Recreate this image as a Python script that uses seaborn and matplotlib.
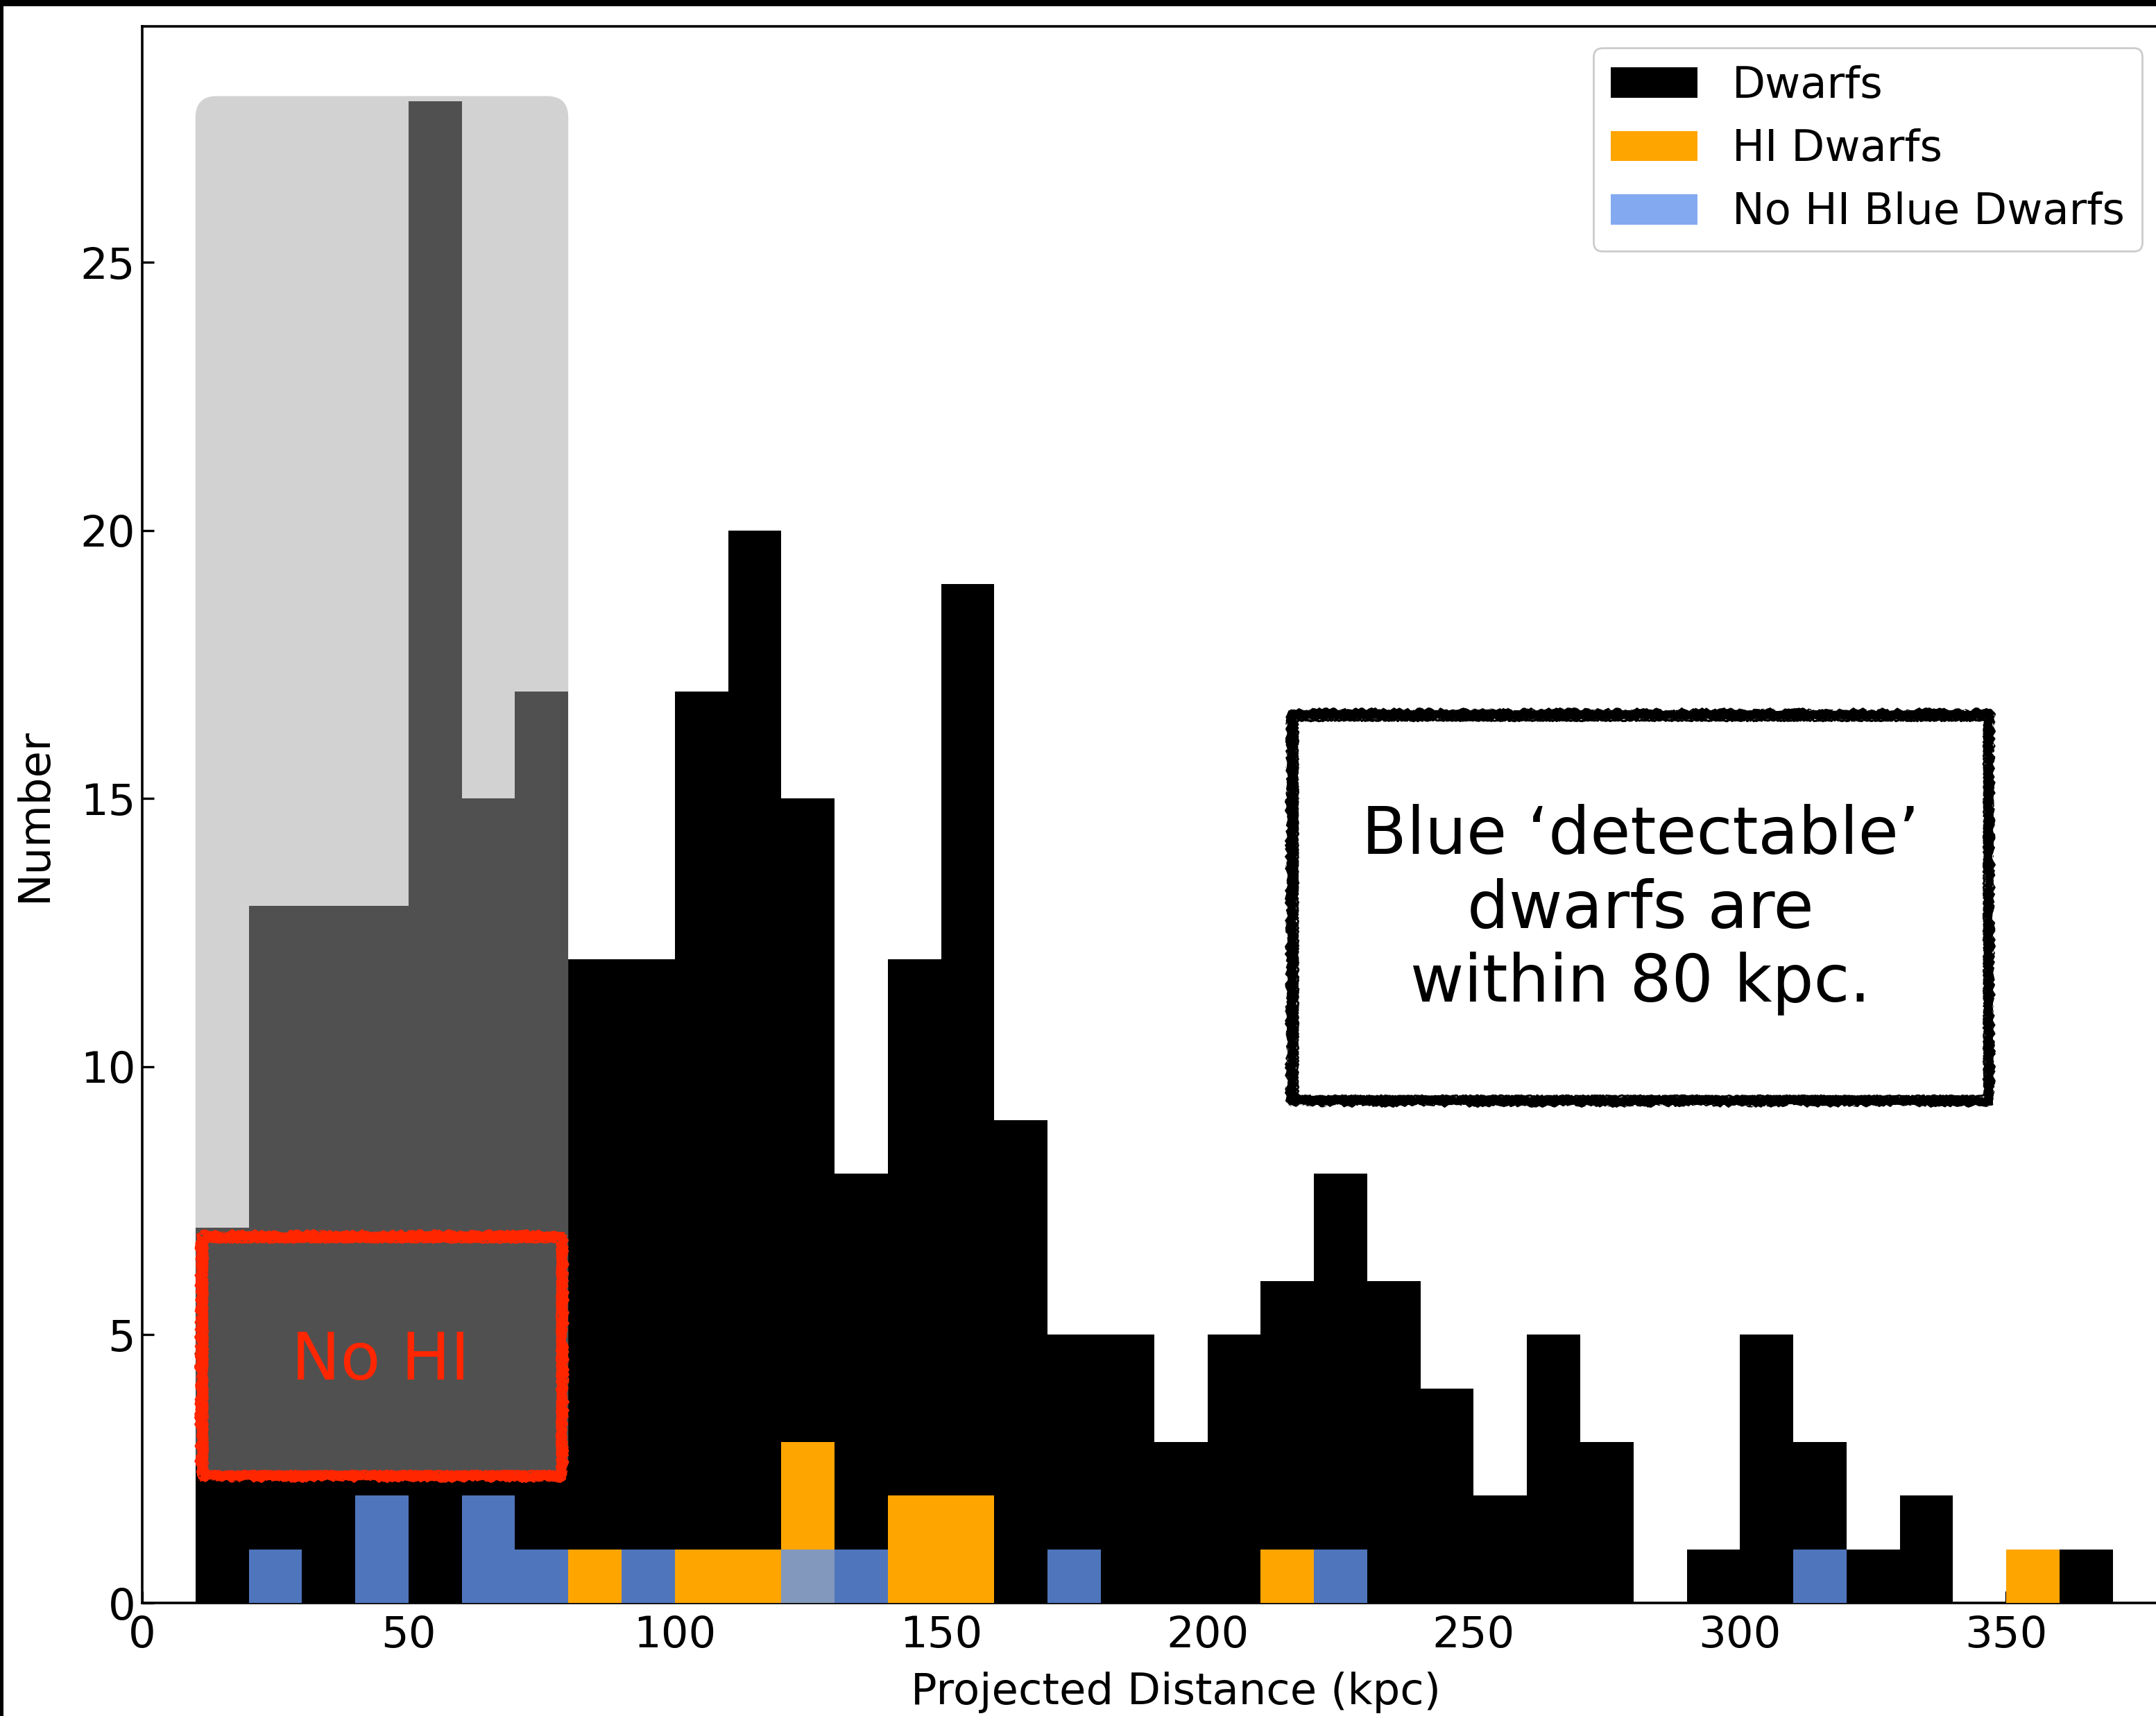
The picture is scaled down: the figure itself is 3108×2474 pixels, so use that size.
import numpy as np
import pandas as pd
import matplotlib
matplotlib.use("Agg")
import matplotlib.pyplot as plt
from matplotlib.patches import FancyBboxPatch, Rectangle
import seaborn as sns

# Histogram bins (kpc) and per-bin counts
bin_edges = list(range(10, 371, 10))
bin_centers = [e + 5 for e in bin_edges[:-1]]

dwarf_counts = [7, 13, 13, 13, 28, 15, 17, 12, 12, 17, 20, 15, 8, 12, 19, 9, 5, 5,
                3, 5, 6, 8, 6, 4, 2, 5, 3, 0, 1, 5, 3, 1, 2, 0, 1, 1]
hi_counts = [0, 0, 0, 0, 0, 0, 0, 1, 0, 1, 1, 3, 0, 2, 2, 0, 0, 0,
             0, 0, 1, 0, 0, 0, 0, 0, 0, 0, 0, 0, 0, 0, 0, 0, 1, 0]
blue_counts = [0, 1, 0, 2, 0, 2, 1, 0, 1, 0, 0, 1, 1, 0, 0, 0, 1, 0,
               0, 0, 0, 1, 0, 0, 0, 0, 0, 0, 0, 0, 1, 0, 0, 0, 0, 0]

series_labels = ["Dwarfs", "HI Dwarfs", "No HI Blue Dwarfs"]
x_ticks = [0, 50, 100, 150, 200, 250, 300, 350]
y_ticks = [0, 5, 10, 15, 20, 25]

df = pd.DataFrame({"dist": bin_centers, "dwarfs": dwarf_counts,
                   "hi": hi_counts, "blue": blue_counts})

sns.set_style("white")
plt.rcParams["font.family"] = ["DejaVu Sans"]
plt.rcParams["font.size"] = 22
for key in ["text.color", "axes.labelcolor", "xtick.color", "ytick.color"]:
    plt.rcParams[key] = "black"

W, H = 3108, 2474
dpi = 200
fig = plt.figure(figsize=(W / dpi, H / dpi), dpi=dpi)
fig.patch.set_facecolor("white")
ax = fig.add_axes([205 / W, 163 / H, 2979 / W, (2311 - 38) / H])

sns.histplot(data=df, x="dist", weights="dwarfs", bins=bin_edges, color="black",
             alpha=1.0, linewidth=0, label=series_labels[0], ax=ax, zorder=2)
sns.histplot(data=df, x="dist", weights="hi", bins=bin_edges, color="orange",
             alpha=1.0, linewidth=0, label=series_labels[1], ax=ax, zorder=3)
sns.histplot(data=df, x="dist", weights="blue", bins=bin_edges, color="cornflowerblue",
             alpha=0.8, linewidth=0, label=series_labels[2], ax=ax, zorder=4)

ax.set_xlim(0, 388)
ax.set_ylim(0, 29.4)
ax.set_xticks(x_ticks)
ax.set_yticks(y_ticks)
ax.tick_params(direction="in", length=6, width=1.2, labelsize=22.5,
               colors="black", bottom=True, left=True, top=False, right=False)
ax.tick_params(axis="x", pad=6)
for s in ax.spines.values():
    s.set_color("black")
    s.set_linewidth(1.3)
ax.set_xlabel("Projected Distance (kpc)", fontsize=22.5, labelpad=8)
ax.set_ylabel("Number", fontsize=22.5, labelpad=13)

# Shaded region over the inner 80 kpc
px_per_x = 2979 / 388
px_per_y = (2311 - 38) / 29.4
ky = px_per_x / px_per_y
shade = FancyBboxPatch((10, 2.3), 70, 25.8,
                       boxstyle="round,pad=0,rounding_size=4",
                       mutation_aspect=ky,
                       facecolor=(0.647, 0.647, 0.647), alpha=0.49,
                       edgecolor="none", zorder=5)
ax.add_patch(shade)


def rough_outline(x0, y0, w, h, color, zorder, fill=None):
    """Hand-drawn looking rectangle: a thick ragged stroke plus thin inner ones."""
    if fill is not None:
        ax.add_patch(Rectangle((x0, y0), w, h, facecolor=fill, edgecolor="none",
                               zorder=zorder))
    layers = [(5.0, 0.0, (2.0, 1.0, 2.0)), (1.8, 0.6, (1.6, 1.3, 2.0)),
              (1.0, 1.1, (1.4, 1.5, 2.0))]
    for lw, inset, sk in layers:
        r = Rectangle((x0 + inset, y0 + inset * ky), w - 2 * inset, h - 2 * inset * ky,
                      fill=False, edgecolor=color, linewidth=lw, zorder=zorder)
        r.set_joinstyle("bevel")
        r.set_capstyle("butt")
        r.set_sketch_params(*sk)
        ax.add_patch(r)


# Rough red outline with label
red = "#ff2600"
rough_outline(11, 2.35, 68, 4.5, red, 6)
ax.text(44.8, 4.5, "No HI", color=red, fontsize=34, ha="center", va="center", zorder=7)

# Annotation box with hand-drawn style border
rough_outline(215.7, 9.35, 131.2, 7.23, "black", 6, fill="white")
ax.text(281.3, 12.93, "Blue \u2018detectable\u2019\ndwarfs are\nwithin 80 kpc.",
        fontsize=34, ha="center", va="center", linespacing=1.2, zorder=7)

leg = ax.legend(loc="upper right", bbox_to_anchor=(3088 / W, 1 - 69 / H),
                bbox_transform=fig.transFigure, borderaxespad=0, fontsize=22.5,
                frameon=True, fancybox=True, edgecolor="0.8", framealpha=1.0,
                handlelength=2.0)
leg.set_zorder(10)

# Frame lines along the top and left of the image
fig.add_artist(Rectangle((0, 1 - 9 / H), 1, 9 / H, transform=fig.transFigure,
                         facecolor="black", edgecolor="none"))
fig.add_artist(Rectangle((0, 0), 5 / W, 1, transform=fig.transFigure,
                         facecolor="black", edgecolor="none"))

fig.savefig("out.png", dpi=dpi)
